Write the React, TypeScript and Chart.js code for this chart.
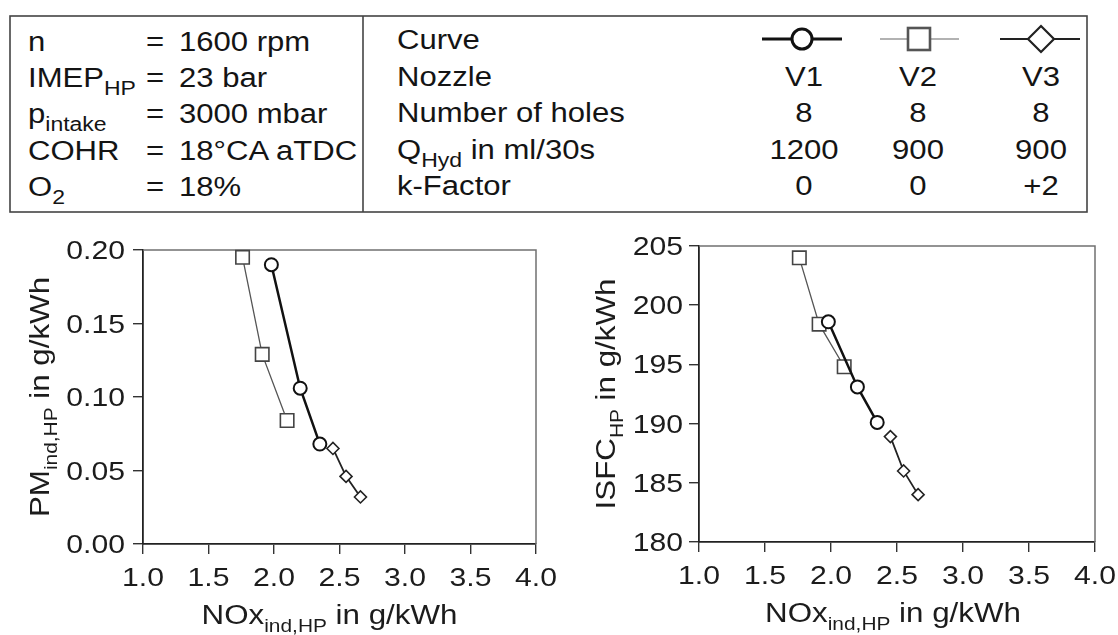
import React, { useEffect, useRef } from 'react';
import { Chart, registerables } from 'chart.js';

Chart.register(...registerables);

// ---------- data ----------
const paramNames = ['n', 'IMEP', 'p', 'COHR', 'O'];
const paramSubs = ['', 'HP', 'intake', '', '2'];
const paramValues = ['1600 rpm', '23 bar', '3000 mbar', '18°CA aTDC', '18%'];

const nozzleNames = ['V1', 'V2', 'V3'];
const holeCounts = ['8', '8', '8'];
const qHydValues = ['1200', '900', '900'];
const kFactors = ['0', '0', '+2'];

const noxV1 = [1.98, 2.2, 2.35];
const noxV2 = [1.76, 1.91, 2.1];
const noxV3 = [2.45, 2.55, 2.66];

const pmV1 = [0.19, 0.106, 0.068];
const pmV2 = [0.195, 0.129, 0.084];
const pmV3 = [0.065, 0.046, 0.032];

const isfcV1 = [198.6, 193.1, 190.1];
const isfcV2 = [204.0, 198.4, 194.8];
const isfcV3 = [188.9, 186.0, 184.0];

const xTicks = [1.0, 1.5, 2.0, 2.5, 3.0, 3.5, 4.0];
const xTickLabels = ['1.0', '1.5', '2.0', '2.5', '3.0', '3.5', '4.0'];
const pmTicks = [0, 0.05, 0.1, 0.15, 0.2];
const pmTickLabels = ['0.00', '0.05', '0.10', '0.15', '0.20'];
const isfcTicks = [180, 185, 190, 195, 200, 205];
const isfcTickLabels = ['180', '185', '190', '195', '200', '205'];

// ---------- drawing helpers ----------
const FONT = '"Liberation Sans", Arial, Helvetica, sans-serif';
const SX = 1.16;

type Part = { t: string; size: number; dy: number };

function drawParts(ctx: CanvasRenderingContext2D, parts: Part[], x: number, y: number, align: 'left' | 'center' | 'right') {
  let total = 0;
  const widths = parts.map((p) => {
    ctx.font = `${p.size}px ${FONT}`;
    const w = ctx.measureText(p.t).width * SX;
    total += w;
    return w;
  });
  let cx = align === 'left' ? x : align === 'center' ? x - total / 2 : x - total;
  parts.forEach((p, i) => {
    ctx.save();
    ctx.font = `${p.size}px ${FONT}`;
    ctx.textAlign = 'left';
    ctx.textBaseline = 'alphabetic';
    ctx.translate(cx, y + p.dy);
    ctx.scale(SX, 1);
    ctx.fillText(p.t, 0, 0);
    ctx.restore();
    cx += widths[i];
  });
}

const mk = (xs: number[], ys: number[]) => xs.map((x, i) => ({ x, y: ys[i] }));

type Spec = {
  v1: number[]; v2: number[]; v3: number[];
  yMin: number; yMax: number; yStep: number;
  yTicks: number[]; yLabels: string[];
  yTitle: Part[]; xTitle: Part[];
  area: { left: number; right: number; top: number; bottom: number };
  yTitleX: number; xTitleShift: number; yLabelGap: number;
};

function buildChart(canvas: HTMLCanvasElement, spec: Spec) {
  const W = canvas.width;
  const H = canvas.height;
  const { area } = spec;
  const plugin = {
    id: 'customDecor',
    beforeDatasetsDraw(chart: any) {
      const ctx = chart.ctx as CanvasRenderingContext2D;
      const { left, right, top, bottom } = chart.chartArea;
      ctx.save();
      ctx.strokeStyle = '#707070';
      ctx.lineWidth = 1.5;
      ctx.beginPath();
      ctx.moveTo(left, top);
      ctx.lineTo(right, top);
      ctx.lineTo(right, bottom);
      ctx.stroke();
      ctx.restore();
    },
    afterDraw(chart: any) {
      const ctx = chart.ctx as CanvasRenderingContext2D;
      const { left, right, top, bottom } = chart.chartArea;
      const xs = chart.scales.x;
      const ys = chart.scales.y;
      ctx.save();
      ctx.fillStyle = '#1c1c1c';
      xTicks.forEach((v, i) => {
        drawParts(ctx, [{ t: xTickLabels[i], size: 26, dy: 0 }], xs.getPixelForValue(v), bottom + 42, 'center');
      });
      spec.yTicks.forEach((v, i) => {
        drawParts(ctx, [{ t: spec.yLabels[i], size: 26, dy: 0 }], left - spec.yLabelGap, ys.getPixelForValue(v) + 9, 'right');
      });
      drawParts(ctx, spec.xTitle, (left + right) / 2 + spec.xTitleShift, bottom + 80, 'center');
      ctx.translate(spec.yTitleX, (top + bottom) / 2);
      ctx.rotate(-Math.PI / 2);
      drawParts(ctx, spec.yTitle, 0, 0, 'center');
      ctx.restore();
    },
  };

  const axisCommon = {
    type: 'linear' as const,
    grid: { display: true, drawOnChartArea: false, drawTicks: true, tickLength: 10, color: '#333', lineWidth: 1.4 },
    border: { display: true, color: '#222', width: 1.8 },
  };

  return new Chart(canvas, {
    type: 'scatter',
    data: {
      datasets: [
        {
          label: 'V1', data: mk(noxV1, spec.v1), showLine: true,
          borderColor: '#111', borderWidth: 2.5,
          pointStyle: 'circle', pointRadius: 6.5, pointBorderWidth: 2,
          pointBackgroundColor: '#fff', pointBorderColor: '#111', clip: false,
        },
        {
          label: 'V2', data: mk(noxV2, spec.v2), showLine: true,
          borderColor: '#555', borderWidth: 1.3,
          pointStyle: 'rect', pointRadius: 9.5, pointBorderWidth: 1.6,
          pointBackgroundColor: '#fff', pointBorderColor: '#444', clip: false,
        },
        {
          label: 'V3', data: mk(noxV3, spec.v3), showLine: true,
          borderColor: '#222', borderWidth: 1.8,
          pointStyle: 'rectRot', pointRadius: 6, pointBorderWidth: 1.6,
          pointBackgroundColor: '#fff', pointBorderColor: '#222', clip: false,
        },
      ] as any,
    },
    options: {
      animation: false,
      responsive: false,
      devicePixelRatio: 1,
      events: [],
      layout: { padding: { top: area.top, right: W - area.right, left: 0, bottom: 0 } },
      plugins: { legend: { display: false }, tooltip: { enabled: false } },
      scales: {
        x: {
          ...axisCommon,
          position: 'bottom',
          min: 1, max: 4,
          ticks: { display: false, stepSize: 0.5 },
          afterFit: (s: any) => { s.height = H - area.bottom; },
        },
        y: {
          ...axisCommon,
          position: 'left',
          min: spec.yMin, max: spec.yMax,
          ticks: { display: false, stepSize: spec.yStep },
          afterFit: (s: any) => { s.width = area.left; },
        },
      } as any,
    },
    plugins: [plugin],
  });
}

// ---------- table text ----------
const TSX = 1.15;
function Txt({ x, base, size = 27, align = 'left', children }: any) {
  const top = base - size * 0.8465;
  const transform = align === 'center' ? `scaleX(${TSX}) translateX(-50%)` : `scaleX(${TSX})`;
  return (
    <div
      style={{
        position: 'absolute', left: x, top, fontSize: size, lineHeight: `${size}px`,
        whiteSpace: 'pre', transform, transformOrigin: '0 0',
      }}
    >
      {children}
    </div>
  );
}

function Sub({ children }: any) {
  return <span style={{ fontSize: 20, position: 'relative', top: 8, lineHeight: 0 }}>{children}</span>;
}

const leftBases = [52, 88, 124, 161, 197];
const rightBases = [50, 87, 123, 160, 196];
const colX = [804, 918, 1041];

export default function App() {
  const leftRef = useRef<HTMLCanvasElement>(null);
  const rightRef = useRef<HTMLCanvasElement>(null);

  useEffect(() => {
    const c1 = buildChart(leftRef.current!, {
      v1: pmV1, v2: pmV2, v3: pmV3,
      yMin: 0, yMax: 0.2, yStep: 0.05,
      yTicks: pmTicks, yLabels: pmTickLabels,
      yTitle: [
        { t: 'PM', size: 27, dy: 0 },
        { t: 'ind,HP', size: 18, dy: 8 },
        { t: ' in g/kWh', size: 27, dy: 0 },
      ],
      xTitle: [
        { t: 'NOx', size: 27, dy: 0 },
        { t: 'ind,HP', size: 18, dy: 8 },
        { t: ' in g/kWh', size: 27, dy: 0 },
      ],
      area: { left: 143, right: 536, top: 25, bottom: 319 },
      yTitleX: 49, xTitleShift: -10, yLabelGap: 18,
    });
    const c2 = buildChart(rightRef.current!, {
      v1: isfcV1, v2: isfcV2, v3: isfcV3,
      yMin: 180, yMax: 205, yStep: 5,
      yTicks: isfcTicks, yLabels: isfcTickLabels,
      yTitle: [
        { t: 'ISFC', size: 27, dy: 0 },
        { t: 'HP', size: 18, dy: 8 },
        { t: ' in g/kWh', size: 27, dy: 0 },
      ],
      xTitle: [
        { t: 'NOx', size: 27, dy: 0 },
        { t: 'ind,HP', size: 18, dy: 8 },
        { t: ' in g/kWh', size: 27, dy: 0 },
      ],
      area: { left: 139, right: 535, top: 21, bottom: 317 },
      yTitleX: 55, xTitleShift: -4, yLabelGap: 16,
    });
    return () => {
      c1.destroy();
      c2.destroy();
    };
  }, []);

  return (
    <div
      style={{
        position: 'absolute', left: 0, top: 0, width: 1118, height: 635,
        background: '#fff', overflow: 'hidden', fontFamily: FONT, color: '#141414',
      }}
    >
      <svg width={1118} height={225} style={{ position: 'absolute', left: 0, top: 0 }}>
        <rect x={10} y={16} width={1077} height={196} fill="none" stroke="#444" strokeWidth={1.6} />
        <line x1={363} y1={16} x2={363} y2={212} stroke="#444" strokeWidth={1.6} />
        {/* legend icons */}
        <line x1={762} y1={39} x2={842} y2={39} stroke="#111" strokeWidth={2.8} />
        <circle cx={802} cy={39} r={10} fill="#fff" stroke="#111" strokeWidth={3} />
        <line x1={880} y1={39} x2={959} y2={39} stroke="#666" strokeWidth={1.2} />
        <rect x={908} y={28} width={22} height={22} fill="#fff" stroke="#555" strokeWidth={2.6} />
        <line x1={1000} y1={39} x2={1080} y2={39} stroke="#222" strokeWidth={2} />
        <polygon points="1041,26 1054,39 1041,52 1028,39" fill="#fff" stroke="#222" strokeWidth={2.2} />
      </svg>

      {paramNames.map((nm, i) => (
        <Txt key={'pn' + i} x={28} base={leftBases[i]}>
          {nm}
          {paramSubs[i] ? <Sub>{paramSubs[i]}</Sub> : null}
        </Txt>
      ))}
      {paramValues.map((v, i) => (
        <React.Fragment key={'pv' + i}>
          <Txt x={146} base={leftBases[i]}>=</Txt>
          <Txt x={179} base={leftBases[i]}>{v}</Txt>
        </React.Fragment>
      ))}

      <Txt x={397} base={rightBases[0]}>Curve</Txt>
      <Txt x={397} base={rightBases[1]}>Nozzle</Txt>
      <Txt x={397} base={rightBases[2]}>Number of holes</Txt>
      <Txt x={397} base={rightBases[3]}>
        Q<Sub>Hyd</Sub> in ml/30s
      </Txt>
      <Txt x={397} base={rightBases[4]}>k-Factor</Txt>

      {colX.map((cx, j) => (
        <React.Fragment key={'col' + j}>
          <Txt x={cx} base={rightBases[1]} align="center">{nozzleNames[j]}</Txt>
          <Txt x={cx} base={rightBases[2]} align="center">{holeCounts[j]}</Txt>
          <Txt x={cx} base={rightBases[3]} align="center">{qHydValues[j]}</Txt>
          <Txt x={cx} base={rightBases[4]} align="center">{kFactors[j]}</Txt>
        </React.Fragment>
      ))}

      <canvas
        ref={leftRef}
        width={560}
        height={410}
        style={{ position: 'absolute', left: 0, top: 225, width: 560, height: 410 }}
      />
      <canvas
        ref={rightRef}
        width={558}
        height={410}
        style={{ position: 'absolute', left: 560, top: 225, width: 558, height: 410 }}
      />
    </div>
  );
}
